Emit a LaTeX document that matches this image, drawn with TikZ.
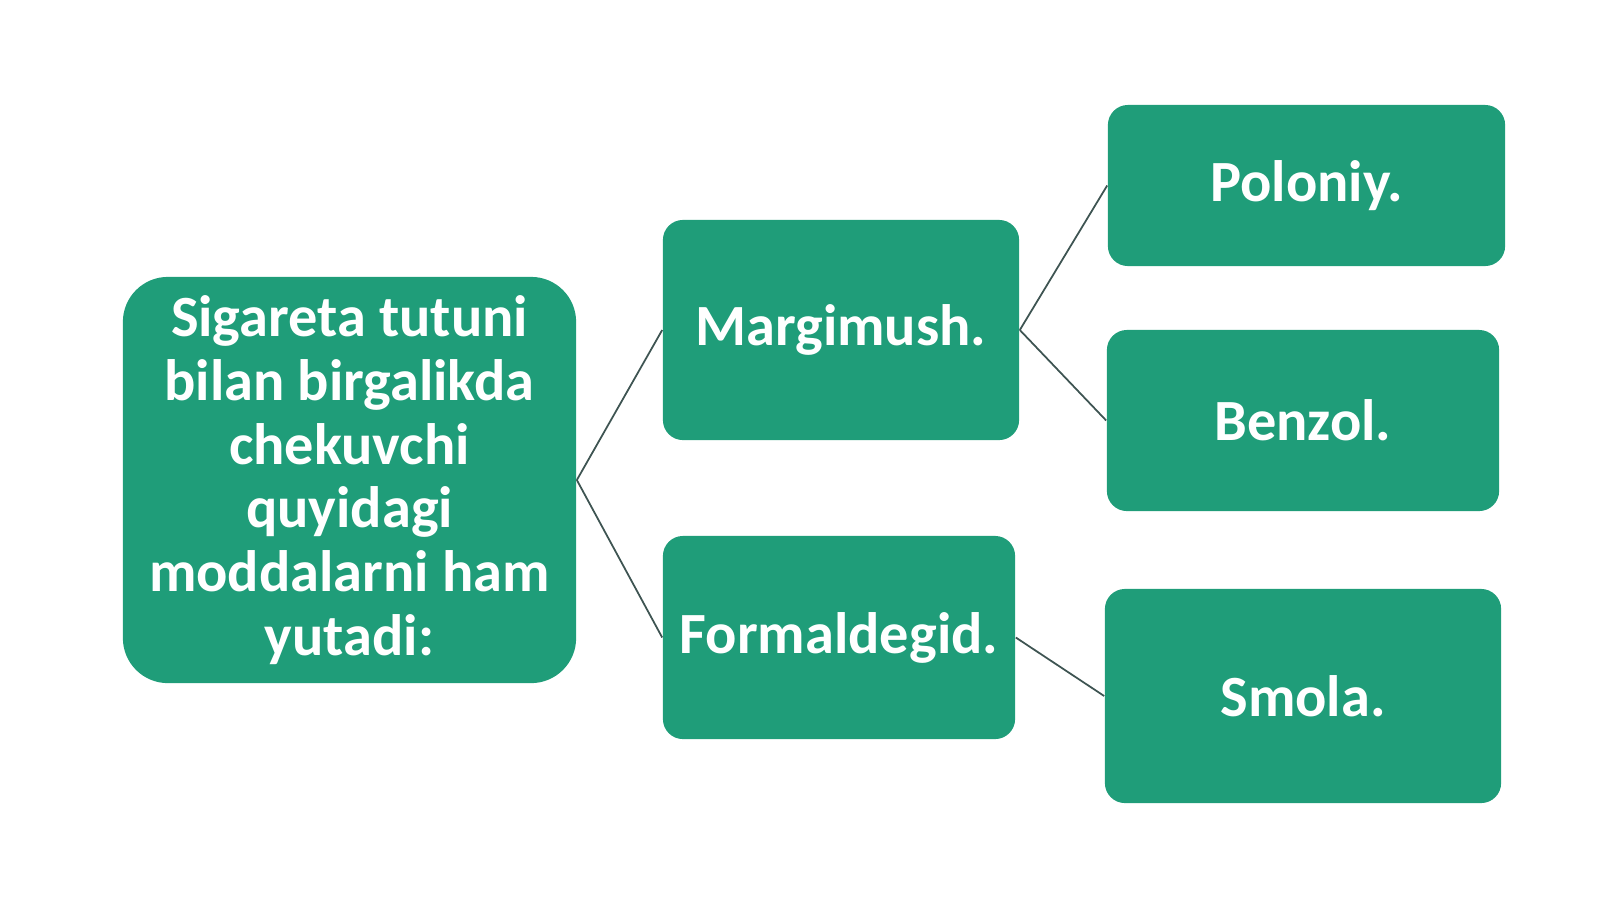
\documentclass[tikz,border=0pt]{standalone}
\usepackage{fontspec}
\setmainfont{Carlito}
\usepackage{xcolor}
\definecolor{boxgreen}{RGB}{31,157,121}
\definecolor{linkgray}{RGB}{62,84,82}
\pgfkeys{tikz/mybox/.style={fill=boxgreen,text=white,font=\fontsize{16.6}{18.1}\selectfont\bfseries,align=center,inner sep=0pt,rounded corners=0.2cm}}
\pgfkeys{tikz/mylink/.style={draw=linkgray,line width=0.5pt}}
\newcommand*\mylinkdraw[2]{
    \draw[mylink] (#1.east) -- (#2.west);
}

\begin{document}
\begin{tikzpicture}[x=0.01cm,y=-0.01cm]
    \useasboundingbox (0,0) rectangle (1600,899);
    \node[mybox,rounded corners=0.45cm,minimum width=4.53cm,minimum height=4.06cm] (root) at (349.5,480)
        {Sigareta tutuni\\bilan birgalikda\\chekuvchi\\quyidagi\\moddalarni ham\\yutadi:};
    \node[mybox,minimum width=3.56cm,minimum height=2.20cm] (marg) at (841,330) {Margimush.};
    \node[mybox,minimum width=3.52cm,minimum height=2.03cm] (form) at (839,637.5) {Formaldegid.};
    \node[mybox,minimum width=3.97cm,minimum height=1.61cm] (polo) at (1306.5,185.5) {Poloniy.};
    \node[mybox,minimum width=3.92cm,minimum height=1.81cm] (benz) at (1303,420.5) {Benzol.};
    \node[mybox,minimum width=3.96cm,minimum height=2.14cm] (smola) at (1303,696) {Smola.};
    \mylinkdraw{root}{marg}
    \mylinkdraw{root}{form}
    \mylinkdraw{marg}{polo}
    \mylinkdraw{marg}{benz}
    \mylinkdraw{form}{smola}
\end{tikzpicture}
\end{document}
